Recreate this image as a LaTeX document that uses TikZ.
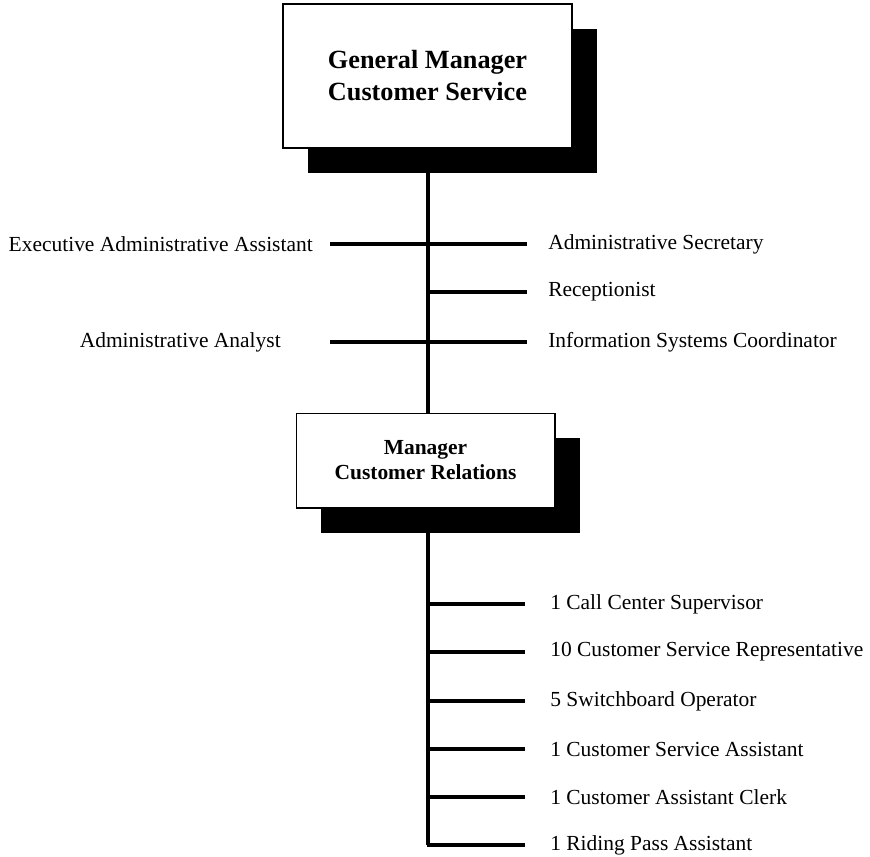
\documentclass[tikz,border=0pt]{standalone}
\usepackage{fontspec}
\setmainfont{Liberation Serif}
\usetikzlibrary{shadows,backgrounds}
\begin{document}
\begin{tikzpicture}[x=0.75pt,y=-0.75pt,
  mgrbox/.style={draw=black,line width=1pt,fill=white,align=center,
    drop shadow={shadow xshift=18.5pt,shadow yshift=-18.5pt,fill=black,opacity=1}},
  link/.style={line width=2.6pt,draw=black},
  role/.style={inner sep=0pt,font=\fontsize{16.1}{19}\selectfont},
]
\useasboundingbox (0,0) rectangle (870,856);

% manager boxes
\node[mgrbox,minimum width=216.75pt,minimum height=108pt,
      font=\fontsize{19.7}{24}\selectfont\bfseries] (gm) at (427.5,76)
  {General Manager\\Customer Service};
\node[mgrbox,minimum width=194pt,minimum height=71pt,
      font=\fontsize{16.1}{18.75}\selectfont\bfseries] (mcr) at (425.5,460.5)
  {Manager\\Customer Relations};

% junction points on the spines
\coordinate (s1) at (428,244);
\coordinate (s2) at (428,292);
\coordinate (s3) at (428,342);
\coordinate (b1) at (428,604);
\coordinate (b2) at (428,652);
\coordinate (b3) at (428,701);
\coordinate (b4) at (428,749);
\coordinate (b5) at (428,797);
\coordinate (b6) at (428,845);

% staff positions
\node[role,anchor=east] (exa) at (313,244) {Executive Administrative Assistant};
\node[role,anchor=east] (ana) at (281,342) {Administrative Analyst};
\node[role,anchor=west] (sec) at (548,244) {Administrative Secretary};
\node[role,anchor=west] (rec) at (548,292) {Receptionist};
\node[role,anchor=west] (isc) at (548,342) {Information Systems Coordinator};

\node[role,anchor=west] (r1) at (550,604) {1 Call Center Supervisor};
\node[role,anchor=west] (r2) at (550,652) {10 Customer Service Representative};
\node[role,anchor=west] (r3) at (550,701) {5 Switchboard Operator};
\node[role,anchor=west] (r4) at (550,749) {1 Customer Service Assistant};
\node[role,anchor=west] (r5) at (550,797) {1 Customer Assistant Clerk};
\node[role,anchor=west] (r6) at (550,845) {1 Riding Pass Assistant};

\begin{scope}[on background layer]
  % spines
  \draw[link] (s1 |- gm.south) -- (s1 |- mcr.north);
  \draw[link] (s1 |- mcr.south) -- (b6);
  % branches beside the general manager spine
  \draw[link,shorten <=12.75pt] (exa.east) -- (s1);
  \draw[link,shorten <=36.75pt] (ana.east) -- (s3);
  \draw[link,shorten >=15.75pt] (s1) -- (sec.west);
  \draw[link,shorten >=15.75pt] (s2) -- (rec.west);
  \draw[link,shorten >=15.75pt] (s3) -- (isc.west);
  % branches beside the customer relations spine
  \foreach \j/\r in {b1/r1,b2/r2,b3/r3,b4/r4,b5/r5,b6/r6}
    \draw[link,shorten >=18.75pt] (\j) -- (\r.west);
  \draw[link] (b6) -- +(-1.1,0);
\end{scope}
\end{tikzpicture}
\end{document}
